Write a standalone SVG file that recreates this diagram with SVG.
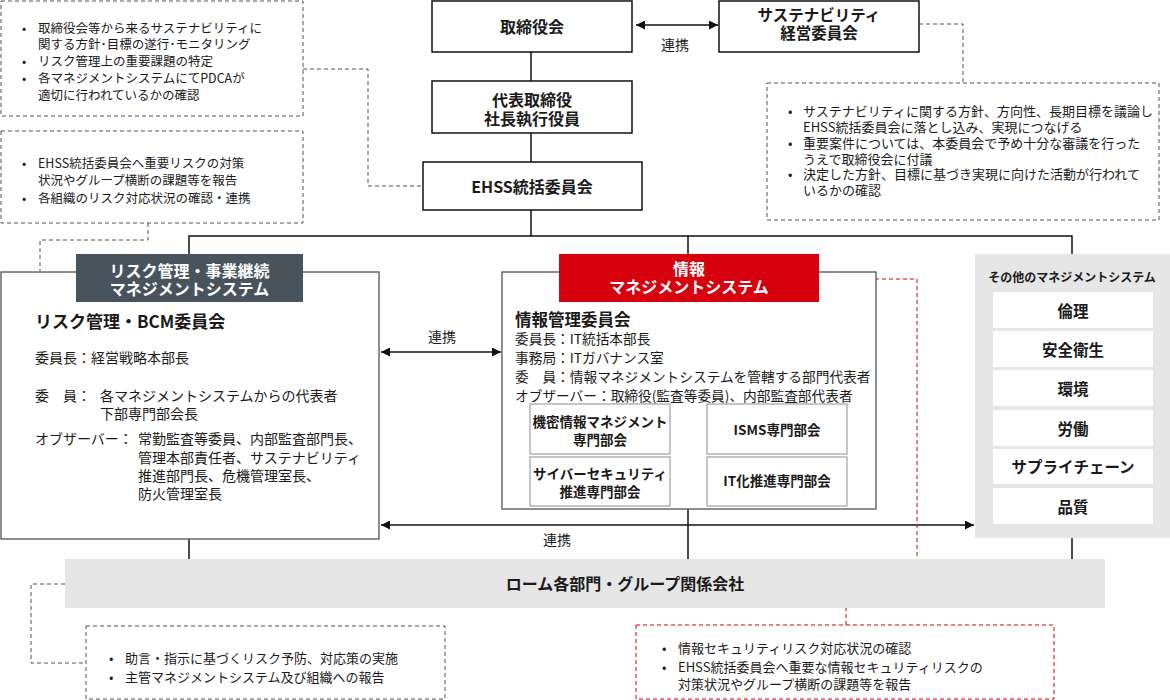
<svg xmlns="http://www.w3.org/2000/svg" width="1170" height="700" viewBox="0 0 1170 700">
<style>
  text { font-family: "Noto Sans CJK JP", "Noto Sans", sans-serif; fill: #1a1a1a; dominant-baseline: central; }
  .b { font-weight: 700; }
  .c { text-anchor: middle; }
  .node { fill: #fff; stroke: #111; stroke-width: 1.5; }
  .sys { fill: #fff; stroke: #4b5359; stroke-width: 1.3; }
  .sub { fill: #fff; stroke: #a8a8a8; stroke-width: 1.3; }
  .note { fill: #fff; stroke: #4b5359; stroke-width: 1; stroke-dasharray: 4 3; }
  .rnote { fill: #fff; stroke: #d7000f; stroke-width: 1; stroke-dasharray: 4 3; }
  .dash { fill: none; stroke: #4b5359; stroke-width: 1; stroke-dasharray: 4 3; }
  .rdash { fill: none; stroke: #d7000f; stroke-width: 1; stroke-dasharray: 4 3; }
  .line { fill: none; stroke: #111; stroke-width: 1.5; }
  .arr { fill: none; stroke: #111; stroke-width: 1.3; marker-start: url(#ah); marker-end: url(#ah); }
  .gray { fill: #e6e6e6; }
  .item { fill: #fff; }
  .wt { fill: #fff; }
  .n13 { font-size: 13px; }
  .n125 { font-size: 12.5px; }
  .n14 { font-size: 14px; }
</style>
<defs>
  <marker id="ah" viewBox="0 0 10 10" refX="10" refY="5" markerWidth="10" markerHeight="9" markerUnits="userSpaceOnUse" orient="auto-start-reverse">
    <path d="M0,0 L10,5 L0,10 z" fill="#111"/>
  </marker>
</defs>

<g id="connectors">
  <!-- hierarchy lines -->
  <line class="line" x1="531" y1="52" x2="531" y2="81"/>
  <line class="line" x1="531" y1="133" x2="531" y2="162"/>
  <line class="line" x1="531" y1="210" x2="531" y2="236"/>
  <polyline class="line" points="189,255 189,236 1072,236 1072,255"/>
  <line class="line" x1="688" y1="236" x2="688" y2="255"/>
  <line class="line" x1="189" y1="539" x2="189" y2="559"/>
  <line class="line" x1="688" y1="509" x2="688" y2="559"/>
  <line class="line" x1="1072" y1="538" x2="1072" y2="559"/>
  <!-- double arrows -->
  <line class="arr" x1="636" y1="25" x2="718" y2="25"/>
  <line class="arr" x1="381" y1="352" x2="501" y2="352"/>
  <line class="arr" x1="381" y1="525" x2="974" y2="525"/>
  <!-- dashed note connectors -->
  <polyline class="dash" points="303,69 368,69 368,186 422,186"/>
  <polyline class="dash" points="148,223 148,240 40,240 40,271"/>
  <polyline class="dash" points="919,24 963,24 963,83"/>
  <polyline class="dash" points="65,584 31,584 31,663 86,663"/>
  <polyline class="rdash" points="819,279 917,279 917,588 846,588 846,625"/>
</g>
<g id="labels">
  <text class="n14 c" x="675" y="44">連携</text>
  <text class="n14 c" x="442" y="336">連携</text>
  <text class="n14 c" x="557" y="539">連携</text>
</g>

<g id="note-board">
  <rect class="note" x="1" y="1" width="302" height="115"/>
  <text class="n125" x="22" y="27">•</text>
  <text class="n125" x="38" y="27">取締役会等から来るサステナビリティに</text>
  <text class="n125" x="38" y="43">関する方針･目標の遂行･モニタリング</text>
  <text class="n125" x="22" y="60">•</text>
  <text class="n125" x="38" y="60">リスク管理上の重要課題の特定</text>
  <text class="n125" x="22" y="77">•</text>
  <text class="n125" x="38" y="77">各マネジメントシステムにてPDCAが</text>
  <text class="n125" x="38" y="94">適切に行われているかの確認</text>
</g>

<g id="note-risk">
  <rect class="note" x="1" y="131" width="302" height="92"/>
  <text class="n125" x="22" y="162">•</text>
  <text class="n125" x="38" y="162">EHSS統括委員会へ重要リスクの対策</text>
  <text class="n125" x="38" y="179">状況やグループ横断の課題等を報告</text>
  <text class="n125" x="22" y="197">•</text>
  <text class="n125" x="38" y="197">各組織のリスク対応状況の確認・連携</text>
</g>

<g id="board">
  <rect class="node" x="432" y="1" width="200" height="51"/>
  <text class="b c" x="532" y="26" font-size="16">取締役会</text>
</g>

<g id="sustainability-committee">
  <rect class="node" x="719" y="1" width="200" height="51"/>
  <text class="b c" x="819" y="14" font-size="15.5">サステナビリティ</text>
  <text class="b c" x="819" y="32" font-size="15.5">経営委員会</text>
</g>

<g id="note-sustainability">
  <rect class="note" x="767" y="83" width="392" height="137"/>
  <text class="n13" x="788" y="110">•</text>
  <text class="n13" x="803" y="110">サステナビリティに関する方針、方向性、長期目標を議論し</text>
  <text class="n13" x="803" y="126">EHSS統括委員会に落とし込み、実現につなげる</text>
  <text class="n13" x="788" y="142">•</text>
  <text class="n13" x="803" y="142">重要案件については、本委員会で予め十分な審議を行った</text>
  <text class="n13" x="803" y="158">うえで取締役会に付議</text>
  <text class="n13" x="788" y="173">•</text>
  <text class="n13" x="803" y="173">決定した方針、目標に基づき実現に向けた活動が行われて</text>
  <text class="n13" x="803" y="189">いるかの確認</text>
</g>

<g id="president">
  <rect class="node" x="432" y="81" width="200" height="52"/>
  <text class="b c" x="532" y="99" font-size="16">代表取締役</text>
  <text class="b c" x="532" y="118" font-size="16">社長執行役員</text>
</g>

<g id="ehss">
  <rect class="node" x="423" y="162" width="219" height="48"/>
  <text class="b c" x="532" y="186" font-size="16">EHSS統括委員会</text>
</g>

<g id="risk-system">
  <rect class="sys" x="1" y="272" width="378" height="267"/>
  <rect x="76" y="254" width="227" height="48" fill="#48535b"/>
  <text class="b c wt" x="189.5" y="270" font-size="16" style="fill:#fff">リスク管理・事業継続</text>
  <text class="b c wt" x="189.5" y="288" font-size="16" style="fill:#fff">マネジメントシステム</text>
  <text class="b" x="35" y="320" font-size="17">リスク管理・BCM委員会</text>
  <text class="n14" x="35" y="357">委員長：経営戦略本部長</text>
  <text class="n14" x="35" y="395">委　員：</text>
  <text class="n14" x="100" y="395">各マネジメントシステムからの代表者</text>
  <text class="n14" x="100" y="413">下部専門部会長</text>
  <text class="n14" x="35" y="438">オブザーバー：</text>
  <text class="n14" x="138" y="438">常勤監査等委員、内部監査部門長、</text>
  <text class="n14" x="138" y="457">管理本部責任者、サステナビリティ</text>
  <text class="n14" x="138" y="475">推進部門長、危機管理室長、</text>
  <text class="n14" x="138" y="493">防火管理室長</text>
</g>

<g id="info-system">
  <rect class="sys" x="502" y="272" width="374" height="237"/>
  <rect x="559" y="254" width="260" height="48" fill="#d7000f"/>
  <text class="b c" x="689" y="268" font-size="16" style="fill:#fff">情報</text>
  <text class="b c" x="689" y="286" font-size="16" style="fill:#fff">マネジメントシステム</text>
  <text class="b" x="515" y="319" font-size="16.5">情報管理委員会</text>
  <text x="515" y="338" font-size="13.7">委員長：IT統括本部長</text>
  <text x="515" y="357" font-size="13.7">事務局：ITガバナンス室</text>
  <text x="515" y="376" font-size="13.7">委　員：情報マネジメントシステムを管轄する部門代表者</text>
  <text x="515" y="395" font-size="13.7">オブザーバー：取締役(監査等委員)、内部監査部代表者</text>
</g>

<g id="sub-confidential">
  <rect class="sub" x="530" y="404" width="140" height="50"/>
  <text class="b c" x="600" y="421" font-size="13.5">機密情報マネジメント</text>
  <text class="b c" x="600" y="439" font-size="13.5">専門部会</text>
</g>
<g id="sub-isms">
  <rect class="sub" x="707" y="404" width="140" height="50"/>
  <text class="b c" x="777" y="429" font-size="13.5">ISMS専門部会</text>
</g>
<g id="sub-cyber">
  <rect class="sub" x="530" y="457" width="140" height="49"/>
  <text class="b c" x="600" y="473" font-size="13.5">サイバーセキュリティ</text>
  <text class="b c" x="600" y="491" font-size="13.5">推進専門部会</text>
</g>
<g id="sub-it">
  <rect class="sub" x="707" y="457" width="140" height="49"/>
  <text class="b c" x="777" y="480" font-size="13.5">IT化推進専門部会</text>
</g>

<g id="other-systems">
  <rect class="gray" x="975" y="254" width="195" height="284"/>
  <text class="b c" x="1072" y="276" font-size="12">その他のマネジメントシステム</text>
  <rect class="item" x="993" y="292" width="160" height="36"/>
  <text class="b c" x="1073" y="310" font-size="15.5">倫理</text>
  <rect class="item" x="993" y="331" width="160" height="36"/>
  <text class="b c" x="1073" y="349" font-size="15.5">安全衛生</text>
  <rect class="item" x="993" y="370" width="160" height="36"/>
  <text class="b c" x="1073" y="388" font-size="15.5">環境</text>
  <rect class="item" x="993" y="410" width="160" height="36"/>
  <text class="b c" x="1073" y="428" font-size="15.5">労働</text>
  <rect class="item" x="993" y="449" width="160" height="35"/>
  <text class="b c" x="1073" y="466" font-size="15.5">サプライチェーン</text>
  <rect class="item" x="993" y="488" width="160" height="36"/>
  <text class="b c" x="1073" y="506" font-size="15.5">品質</text>
</g>

<g id="rohm-departments">
  <rect class="gray" x="65" y="559" width="1040" height="49"/>
  <text class="b c" x="625" y="583" font-size="16">ローム各部門・グループ関係会社</text>
</g>

<g id="note-departments">
  <rect class="note" x="86" y="626" width="359" height="73"/>
  <text class="n13" x="109" y="657">•</text>
  <text class="n13" x="125" y="657">助言・指示に基づくリスク予防、対応策の実施</text>
  <text class="n13" x="109" y="676">•</text>
  <text class="n13" x="125" y="676">主管マネジメントシステム及び組織への報告</text>
</g>

<g id="note-info">
  <rect class="rnote" x="636" y="625" width="418" height="74"/>
  <text class="n13" x="662" y="647">•</text>
  <text class="n13" x="678" y="647">情報セキュリティリスク対応状況の確認</text>
  <text class="n13" x="662" y="666">•</text>
  <text class="n13" x="678" y="666">EHSS統括委員会へ重要な情報セキュリティリスクの</text>
  <text class="n13" x="678" y="683">対策状況やグループ横断の課題等を報告</text>
</g>
</svg>
